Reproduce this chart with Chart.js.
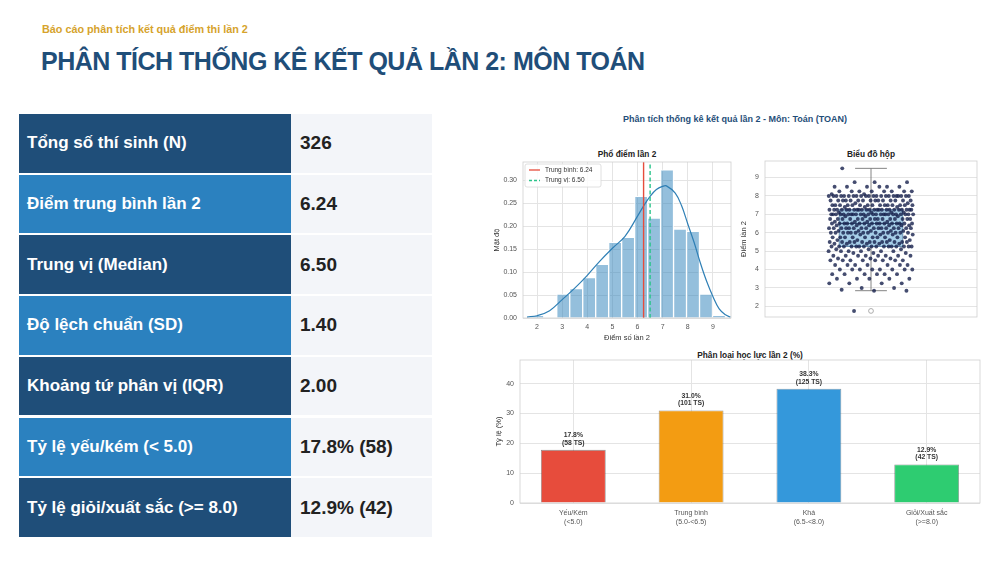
<!DOCTYPE html>
<html><head><meta charset="utf-8">
<script src="https://cdn.jsdelivr.net/npm/chart.js@4.4.1/dist/chart.umd.min.js"></script>
<style>
html,body{margin:0;padding:0;background:#fff;}
body{width:1000px;height:580px;position:relative;overflow:hidden;font-family:"Liberation Sans",Arial,sans-serif;}
.sub{position:absolute;left:42px;top:23px;font-size:10.8px;font-weight:bold;color:#d6a32c;white-space:nowrap;}
.title{position:absolute;left:41px;top:47px;font-size:25px;letter-spacing:-0.5px;font-weight:bold;color:#1f4e79;white-space:nowrap;}
.row{position:absolute;left:19px;width:413px;height:58.7px;}
.lab{position:absolute;left:0;top:0;width:272px;height:100%;color:#fff;font-weight:bold;font-size:17px;display:flex;align-items:center;padding-left:8px;box-sizing:border-box;}
.val{position:absolute;left:272px;top:0;width:141px;height:100%;background:#f3f5f9;color:#222;font-weight:bold;font-size:19px;display:flex;align-items:center;padding-left:9px;box-sizing:border-box;}
.ctitle{position:absolute;font-weight:bold;color:#222;font-size:8.3px;white-space:nowrap;transform:translateX(-50%);}
.sup{position:absolute;font-weight:bold;color:#1f4e79;font-size:9px;white-space:nowrap;transform:translateX(-50%);}
canvas{position:absolute;}
</style>
</head><body>
<div class="sub">Báo cáo phân tích kết quả điểm thi lần 2</div>
<div class="title">PHÂN TÍCH THỐNG KÊ KẾT QUẢ LẦN 2: MÔN TOÁN</div>
<div id="tbl"></div>
<div class="sup" style="left:735px;top:114px;">Phân tích thống kê kết quả lần 2 - Môn: Toán (TOAN)</div>
<div class="ctitle" style="left:627px;top:149px;">Phổ điểm lần 2</div>
<div class="ctitle" style="left:871px;top:149px;">Biểu đồ hộp</div>
<div class="ctitle" style="left:750px;top:350px;">Phân loại học lực lần 2 (%)</div>
<div id="w1" style="position:absolute;left:490px;top:140px;width:245px;height:205px;"><canvas id="hist"></canvas></div>
<div id="w2" style="position:absolute;left:735px;top:140px;width:250px;height:190px;"><canvas id="box"></canvas></div>
<div id="w3" style="position:absolute;left:490px;top:345px;width:500px;height:200px;"><canvas id="bars"></canvas></div>
<script>
// ---------- data ----------
const statLabels = ["Tổng số thí sinh (N)","Điểm trung bình lần 2","Trung vị (Median)","Độ lệch chuẩn (SD)","Khoảng tứ phân vị (IQR)","Tỷ lệ yếu/kém (< 5.0)","Tỷ lệ giỏi/xuất sắc (>= 8.0)"];
const statValues = ["326","6.24","6.50","1.40","2.00","17.8% (58)","12.9% (42)"];

const binEdges = [1.75,2.267,2.783,3.3,3.817,4.333,4.85,5.367,5.883,6.4,6.917,7.433,7.95,8.467,8.983,9.5];
const binDensity = [0.006,0,0.052,0.064,0.088,0.117,0.165,0.176,0.265,0.218,0.323,0.194,0.189,0.052,0.006];
const kdeX = [1.6,2.0,2.5,3.0,3.5,4.0,4.5,5.0,5.5,6.0,6.25,6.5,6.75,7.0,7.15,7.5,7.75,8.0,8.25,8.5,8.75,9.0,9.25,9.5,9.7];
const kdeY = [0.002,0.005,0.016,0.040,0.065,0.093,0.124,0.152,0.178,0.222,0.245,0.265,0.280,0.287,0.288,0.272,0.245,0.205,0.165,0.120,0.080,0.047,0.020,0.007,0.002];
const meanScore = 6.24;
const medianScore = 6.50;
const histTicks = [0,0.05,0.10,0.15,0.20,0.25,0.30];

const stripScores = [1.75,2.85,2.9,3.0,3.25,3.5,3.75,4.0,4.25,4.5,4.6,4.75,4.9,5.0,5.1,5.25,5.4,5.5,5.6,5.75,5.9,6.0,6.1,6.25,6.4,6.5,6.6,6.75,6.9,7.0,7.1,7.25,7.4,7.5,7.6,7.75,8.0,8.1,8.25,8.5,8.75,9.5];
const stripCounts = [1,2,1,2,4,5,6,8,7,8,3,8,3,6,3,16,5,12,4,10,4,14,5,16,6,16,4,15,3,24,4,24,3,15,2,15,22,2,8,6,3,1];
const boxFive = [2.85,5.25,6.5,7.25,9.5]; // whisker low, Q1, median, Q3, whisker high
const boxOutliers = [1.75];

const levelLabels = [["Yếu/Kém","(<5.0)"],["Trung bình","(5.0-<6.5)"],["Khá","(6.5-<8.0)"],["Giỏi/Xuất sắc","(>=8.0)"]];
const levelPct = [17.8,31.0,38.3,12.9];
const levelCount = [58,101,125,42];
const levelColors = ['#e74c3c','#f39c12','#3498db','#2ecc71'];

// ---------- table ----------
const tbl = document.getElementById('tbl');
statLabels.forEach((l,i)=>{
  const r = document.createElement('div'); r.className='row';
  r.style.top = (114 + i*60.7)+'px';
  const a = document.createElement('div'); a.className='lab'; a.textContent=l;
  a.style.background = (i%2===0)?'#1f4e79':'#2b81bf';
  const b = document.createElement('div'); b.className='val'; b.textContent=statValues[i];
  r.appendChild(a); r.appendChild(b); tbl.appendChild(r);
});

// ---------- chart helpers ----------
Chart.defaults.font.family = "'Liberation Sans', Arial, sans-serif";
Chart.defaults.color = '#555';
Chart.defaults.animation = false;
const GRID = '#e4e4e4';
const frame = {
  id:'frame',
  afterDatasetsDraw(chart){
    const {ctx, chartArea:a} = chart;
    ctx.save(); ctx.strokeStyle='#cfcfcf'; ctx.lineWidth=0.8;
    ctx.strokeRect(a.left, a.top, a.right-a.left, a.bottom-a.top);
    ctx.restore();
  }
};

// ---------- histogram ----------
const medColor = '#2bc48a';
const histLegend = {
  id:'histLegend',
  afterDatasetsDraw(chart){
    const {ctx, chartArea:a} = chart;
    const x0=a.left+2, y0=a.top+2, w=76, h=23;
    ctx.save();
    ctx.fillStyle='rgba(255,255,255,0.85)'; ctx.strokeStyle='#d8d8d8'; ctx.lineWidth=0.8;
    ctx.beginPath(); ctx.roundRect(x0,y0,w,h,2); ctx.fill(); ctx.stroke();
    const items=[{t:'Trung bình: '+meanScore.toFixed(2),c:'#e74c3c',d:[]},{t:'Trung vị: '+medianScore.toFixed(2),c:medColor,d:[3,2]}];
    ctx.font = "6.5px 'Liberation Sans', Arial, sans-serif";
    ctx.textBaseline='middle';
    items.forEach((it,i)=>{
      const y = y0 + 6 + i*10.5;
      ctx.strokeStyle=it.c; ctx.lineWidth=1.3; ctx.setLineDash(it.d);
      ctx.beginPath(); ctx.moveTo(x0+4,y); ctx.lineTo(x0+15,y); ctx.stroke();
      ctx.setLineDash([]);
      ctx.fillStyle='#333'; ctx.fillText(it.t, x0+20, y);
    });
    ctx.restore();
  }
};
const histBars = binDensity.map((d,i)=>({x:(binEdges[i]+binEdges[i+1])/2, y:d}));
new Chart(document.getElementById('hist'), {
  type:'bar',
  data:{datasets:[
    {type:'bar', data:histBars, backgroundColor:'rgba(41,128,185,0.5)', borderColor:'#ffffff', borderWidth:1, barPercentage:1, categoryPercentage:1, order:3},
    {type:'line', data:kdeX.map((x,i)=>({x, y:kdeY[i]})), borderColor:'#2e7fb5', borderWidth:1.2, pointRadius:0, tension:0.4, fill:false, order:2},
    {type:'line', data:[{x:meanScore,y:0},{x:meanScore,y:0.34}], borderColor:'#e74c3c', borderWidth:1.4, pointRadius:0, order:1},
    {type:'line', data:[{x:medianScore,y:0},{x:medianScore,y:0.34}], borderColor:medColor, borderWidth:1.4, borderDash:[4,2.5], pointRadius:0, order:1}
  ]},
  options:{
    responsive:true, maintainAspectRatio:false,
    layout:{padding:{top:22,right:4,left:0,bottom:0}},
    plugins:{legend:{display:false}, tooltip:{enabled:false}},
    scales:{
      x:{type:'linear', min:1.44, max:9.72, offset:false,
         grid:{color:GRID, offset:false, drawTicks:false}, border:{display:false},
         ticks:{stepSize:1, includeBounds:false, font:{size:7}, padding:5, callback:v=>v},
         title:{display:true, text:'Điểm số lần 2', font:{size:7.5}, color:'#333', padding:{top:2,bottom:3}},
         afterFit:s=>{s.height=27;}},
      y:{min:0, max:0.34, grid:{color:GRID, drawTicks:false}, border:{display:false},
         afterBuildTicks:s=>{s.ticks=histTicks.map(v=>({value:v}));},
         ticks:{font:{size:7}, padding:6, callback:v=>Number(v).toFixed(2)},
         title:{display:true, text:'Mật độ', font:{size:7.5}, color:'#333', padding:{top:2,bottom:2}},
         afterFit:s=>{s.width=33;}}
    }
  },
  plugins:[frame, histLegend]
});

// ---------- box plot ----------
const stripPts = [];
let k = 0;
stripScores.forEach((s,i)=>{
  for(let j=0;j<stripCounts[i];j++){
    const jit = (((k*0.6180339887 + 0.3) % 1) - 0.5) * 0.4;
    stripPts.push({x:jit, y:s}); k++;
  }
});
const boxWidth = 0.3;
const boxDraw = {
  id:'boxDraw',
  beforeDatasetsDraw(chart){
    const {ctx} = chart; const xs=chart.scales.x, ys=chart.scales.y;
    const cx = xs.getPixelForValue(0);
    const hw = xs.getPixelForValue(boxWidth/2) - cx;
    const cw = hw/2;
    const [lo,q1,md,q3,hi] = boxFive.map(v=>ys.getPixelForValue(v));
    ctx.save();
    ctx.strokeStyle='#777'; ctx.lineWidth=0.9;
    ctx.beginPath();
    ctx.moveTo(cx,q3); ctx.lineTo(cx,hi); ctx.moveTo(cx-cw,hi); ctx.lineTo(cx+cw,hi);
    ctx.moveTo(cx,q1); ctx.lineTo(cx,lo); ctx.moveTo(cx-cw,lo); ctx.lineTo(cx+cw,lo);
    ctx.stroke();
    ctx.fillStyle='rgba(150,198,228,0.85)'; ctx.strokeStyle='#5d87ab'; ctx.lineWidth=0.9;
    ctx.fillRect(cx-hw,q3,2*hw,q1-q3); ctx.strokeRect(cx-hw,q3,2*hw,q1-q3);
    ctx.strokeStyle='#3d5f80'; ctx.lineWidth=1.1;
    ctx.beginPath(); ctx.moveTo(cx-hw,md); ctx.lineTo(cx+hw,md); ctx.stroke();
    ctx.strokeStyle='#999'; ctx.lineWidth=0.8; ctx.fillStyle='#fff';
    boxOutliers.forEach(o=>{ ctx.beginPath(); ctx.arc(cx, ys.getPixelForValue(o), 2.4, 0, Math.PI*2); ctx.fill(); ctx.stroke(); });
    ctx.restore();
  }
};
new Chart(document.getElementById('box'), {
  type:'scatter',
  data:{datasets:[{data:stripPts, pointRadius:1.95, backgroundColor:'rgba(22,32,76,0.8)', borderWidth:0}]},
  options:{
    responsive:true, maintainAspectRatio:false,
    layout:{padding:{top:21,right:8,left:0,bottom:13}},
    plugins:{legend:{display:false}, tooltip:{enabled:false}},
    scales:{
      x:{type:'linear', min:-0.5, max:0.5, display:false},
      y:{min:1.42, max:9.9, grid:{color:GRID, drawTicks:false}, border:{display:false},
         ticks:{stepSize:1, includeBounds:false, font:{size:7}, padding:6},
         title:{display:true, text:'Điểm lần 2', font:{size:7.5}, color:'#333', padding:{top:4,bottom:2}},
         afterFit:s=>{s.width=30;}}
    }
  },
  plugins:[boxDraw, frame]
});

// ---------- category bars ----------
const barLabels = {
  id:'barLabels',
  afterDatasetsDraw(chart){
    const {ctx} = chart; const meta = chart.getDatasetMeta(0);
    ctx.save(); ctx.fillStyle='#333'; ctx.textAlign='center';
    ctx.font = "bold 6.8px 'Liberation Sans', Arial, sans-serif";
    ctx.textBaseline='middle';
    meta.data.forEach((el,i)=>{
      ctx.fillText(levelPct[i].toFixed(1)+'%', el.x, el.y-14.5);
      ctx.fillText('('+levelCount[i]+' TS)', el.x, el.y-7);
    });
    ctx.restore();
  }
};
new Chart(document.getElementById('bars'), {
  type:'bar',
  data:{datasets:[{data:levelPct.map((v,i)=>({x:i,y:v})), backgroundColor:levelColors, borderColor:'rgba(40,40,40,0.55)', borderWidth:0.8, barPercentage:0.55, categoryPercentage:1}]},
  options:{
    responsive:true, maintainAspectRatio:false,
    layout:{padding:{top:15,right:10,left:0,bottom:0}},
    plugins:{legend:{display:false}, tooltip:{enabled:false}},
    scales:{
      x:{type:'linear', min:-0.4525, max:3.4525, offset:false,
         grid:{color:GRID, offset:false, drawTicks:false}, border:{display:false},
         afterBuildTicks:s=>{s.ticks=levelLabels.map((_,i)=>({value:i}));},
         ticks:{font:{size:7}, padding:6, maxRotation:0, autoSkip:false, callback:v=>levelLabels[v]},
         afterFit:s=>{s.height=42;}},
      y:{min:0, max:47.9, grid:{color:GRID, drawTicks:false}, border:{display:false},
         ticks:{stepSize:10, includeBounds:false, font:{size:7}, padding:6},
         title:{display:true, text:'Tỷ lệ (%)', font:{size:7.5}, color:'#333', padding:{top:4,bottom:2}},
         afterFit:s=>{s.width=30;}}
    }
  },
  plugins:[frame, barLabels]
});
</script>
</body></html>
